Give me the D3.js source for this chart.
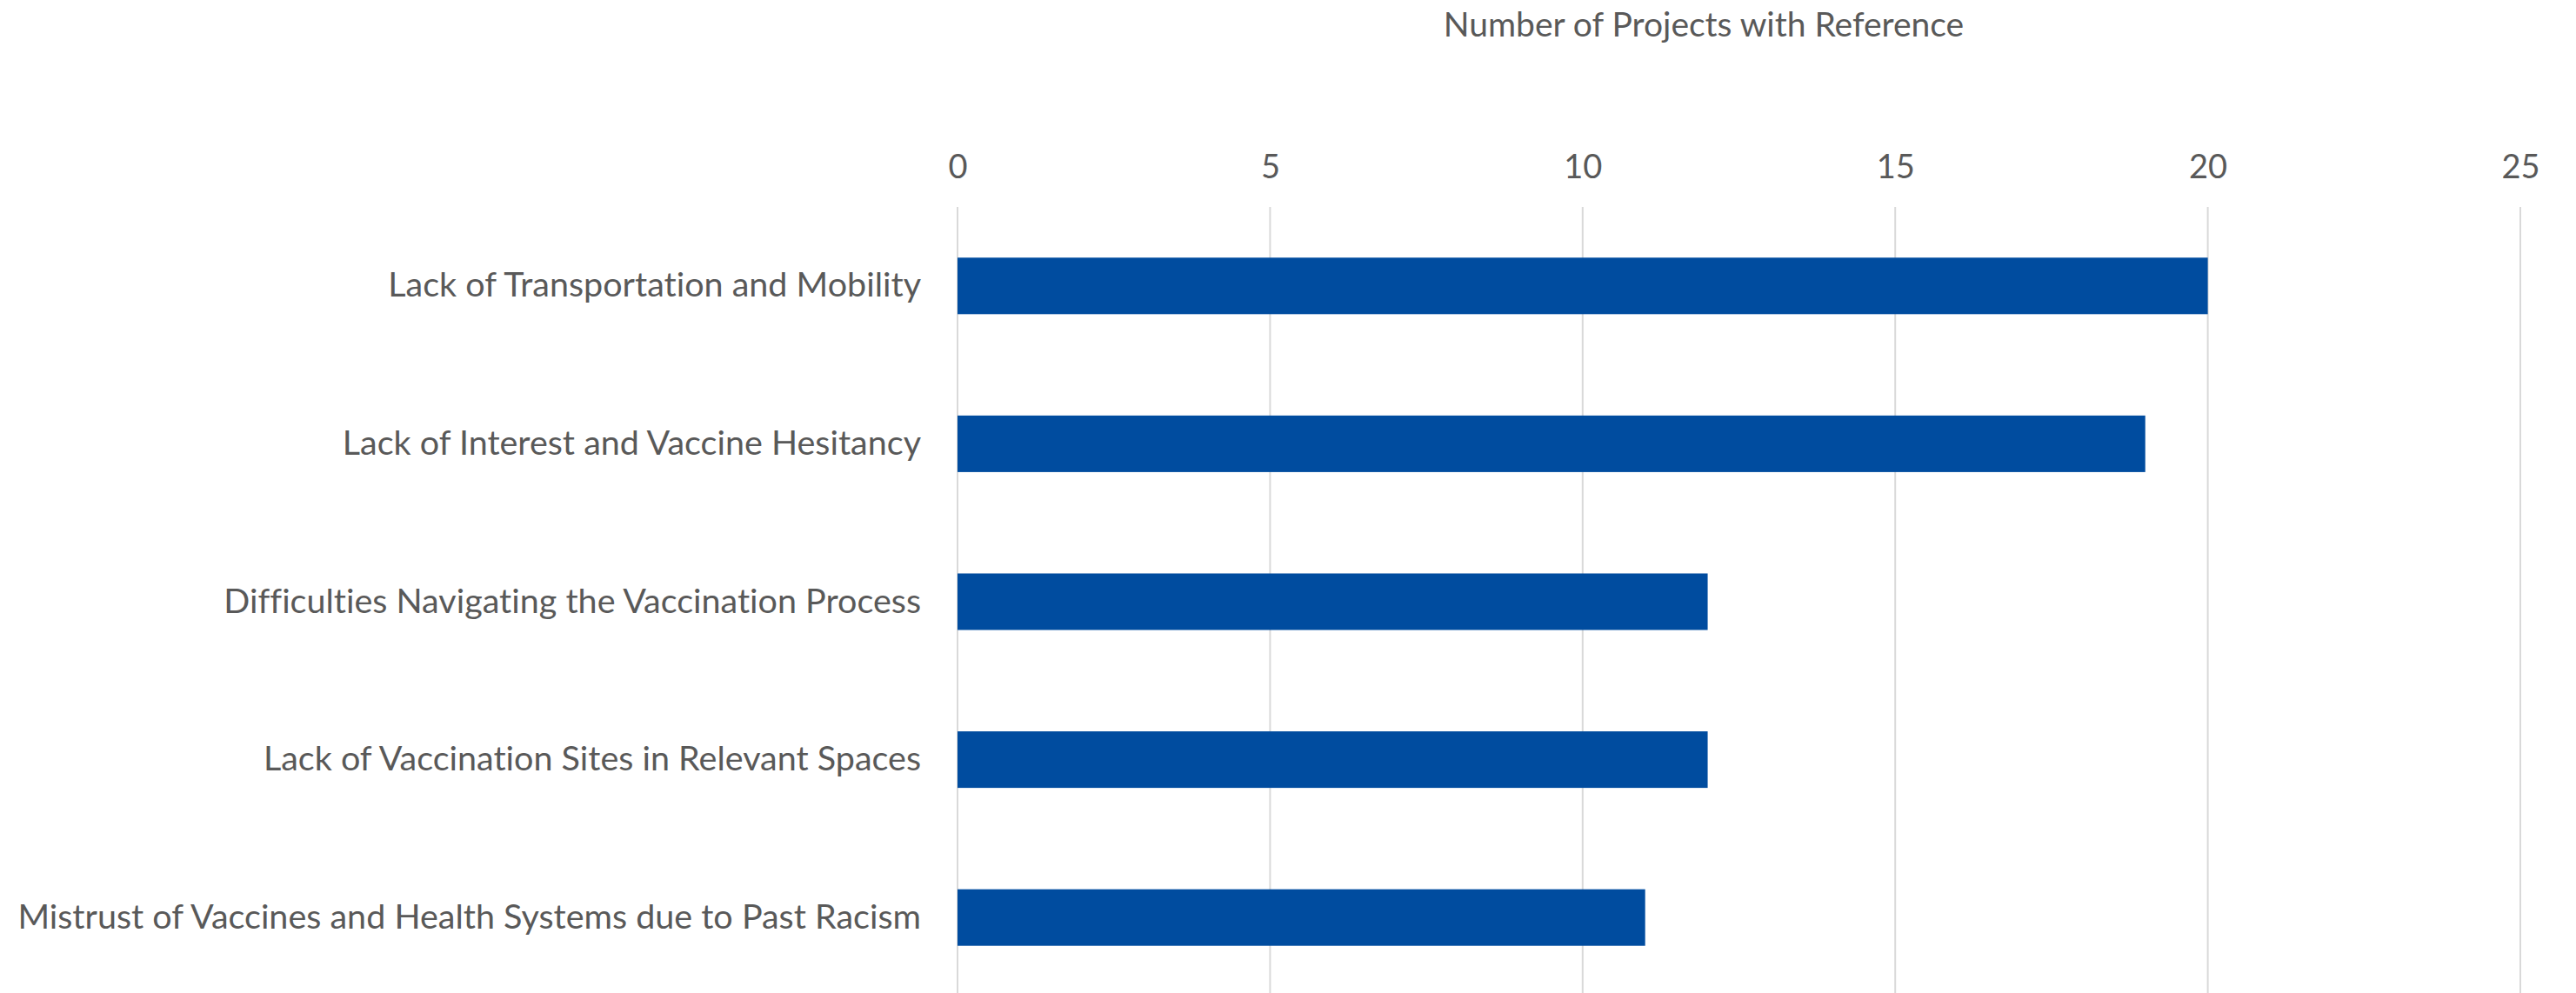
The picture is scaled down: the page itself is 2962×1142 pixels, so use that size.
<!DOCTYPE html>
<html>
<head>
<meta charset="utf-8">
<script src="https://cdn.jsdelivr.net/npm/d3@7"></script>
<style>
  body { margin: 0; background: #ffffff; }
  svg { display: block; }
  text { font-variant-ligatures: none; }
</style>
</head>
<body>
<script>
// Chart data
var categories = [
    "Lack of Transportation and Mobility",
    "Lack of Interest and Vaccine Hesitancy",
    "Difficulties Navigating the Vaccination Process",
    "Lack of Vaccination Sites in Relevant Spaces",
    "Mistrust of Vaccines and Health Systems due to Past Racism"
];
var projectCounts = [20, 19, 12, 12, 11];
var tickValues = [0, 5, 10, 15, 20, 25];
var axisTitle = "Number of Projects with Reference";

// Canvas size
var totalWidth = 2962,
    totalHeight = 1142;
var margin = { top: 238, right: 64, bottom: -4, left: 1101 },
    width = totalWidth - margin.left - margin.right,
    height = totalHeight - margin.top - margin.bottom;

var fontFamily = "Lato, 'Open Sans', sans-serif";
var textColor = "#595959";

var svg = d3.select("body").append("svg")
    .attr("width", totalWidth)
    .attr("height", totalHeight)
    .append("g")
    .attr("transform", "translate(" + margin.left + "," + margin.top + ")");

// Scales
var x = d3.scaleLinear()
    .domain([0, 25])
    .range([0, width]);

var y = d3.scaleBand()
    .domain(categories)
    .range([0, height])
    .paddingInner(0.642)
    .paddingOuter(0.321);

// Vertical gridlines
svg.append("g")
    .selectAll("line")
    .data(tickValues)
    .enter().append("line")
    .attr("x1", function (d) { return x(d); })
    .attr("x2", function (d) { return x(d); })
    .attr("y1", 0)
    .attr("y2", height)
    .attr("stroke", "#d9d9d9")
    .attr("stroke-width", 2);

// Top axis with tick labels
var xAxis = d3.axisTop(x)
    .tickValues(tickValues)
    .tickSize(0)
    .tickPadding(0);

var xAxisG = svg.append("g")
    .attr("transform", "translate(0,-33)")
    .call(xAxis);
xAxisG.select(".domain").remove();
xAxisG.selectAll("text")
    .attr("fill", textColor)
    .style("font-family", fontFamily)
    .style("font-size", "38px");

// Axis title
svg.append("text")
    .attr("x", 858)
    .attr("y", -210)
    .attr("dy", "0.35em")
    .attr("text-anchor", "middle")
    .attr("fill", textColor)
    .style("font-family", fontFamily)
    .style("font-size", "39px")
    .text(axisTitle);

// Category labels
var yAxis = d3.axisLeft(y)
    .tickSize(0)
    .tickPadding(42);

var yAxisG = svg.append("g").call(yAxis);
yAxisG.select(".domain").remove();
yAxisG.selectAll("text")
    .attr("fill", textColor)
    .style("font-family", fontFamily)
    .style("font-size", "39.5px");

// Bars
svg.append("g")
    .selectAll("rect")
    .data(projectCounts)
    .enter().append("rect")
    .attr("x", x(0))
    .attr("y", function (d, i) { return y(categories[i]); })
    .attr("width", function (d) { return x(d) - x(0); })
    .attr("height", y.bandwidth())
    .attr("fill", "#004c9f");
</script>
</body>
</html>
